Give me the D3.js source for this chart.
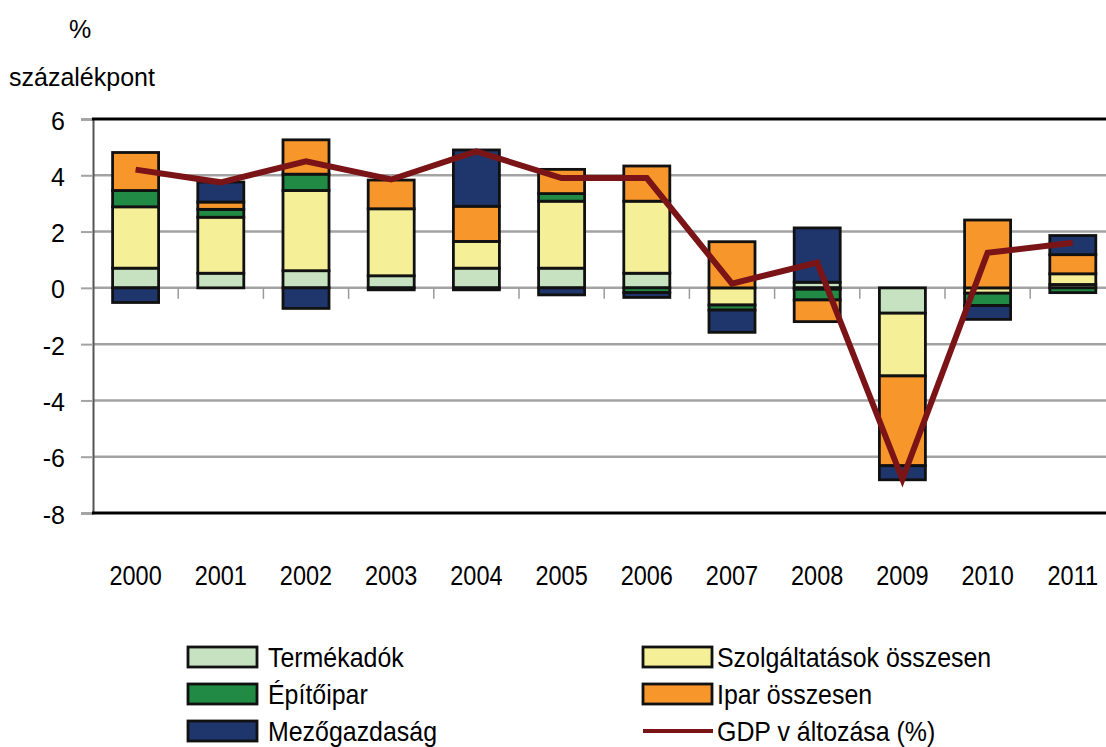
<!DOCTYPE html>
<html>
<head>
<meta charset="utf-8">
<script src="https://cdn.jsdelivr.net/npm/d3@7"></script>
<style>
  body { margin: 0; background: #fff; }
  svg { display: block; font-family: "Liberation Sans", Arial, sans-serif; }
</style>
</head>
<body>
<script>
const years = ["2000", "2001", "2002", "2003", "2004", "2005", "2006", "2007", "2008", "2009", "2010", "2011"];
const termekadok = [0.70, 0.52, 0.61, 0.43, 0.70, 0.70, 0.52, 0.00, 0.20, -0.90, 0.00, 0.12];
const szolgaltatasok = [2.18, 1.99, 2.85, 2.38, 0.95, 2.38, 2.56, -0.61, -0.05, -2.23, -0.19, 0.38];
const epitoipar = [0.58, 0.28, 0.58, 0.00, -0.07, 0.27, -0.17, -0.18, -0.38, 0.00, -0.44, -0.17];
const ipar = [1.35, 0.26, 1.22, 1.02, 1.25, 0.86, 1.25, 1.64, -0.77, -3.19, 2.41, 0.68];
const mezogazdasag = [-0.52, 0.71, -0.73, -0.07, 2.00, -0.25, -0.17, -0.79, 1.93, -0.50, -0.49, 0.68];
const gdp = [4.2, 3.75, 4.5, 3.85, 4.85, 3.9, 3.9, 0.15, 0.9, -6.8, 1.25, 1.6];
const yTicks = [6, 4, 2, 0, -2, -4, -6, -8];

const series = [
    {key: "termekadok", name: "Termékadók", values: termekadok, color: "#c6e2c0"},
    {key: "szolg", name: "Szolgáltatások összesen", values: szolgaltatasok, color: "#f5f098"},
    {key: "epito", name: "Építőipar", values: epitoipar, color: "#218a44"},
    {key: "ipar", name: "Ipar összesen", values: ipar, color: "#f7962b"},
    {key: "mezo", name: "Mezőgazdaság", values: mezogazdasag, color: "#1f366c"},
];
const lineColor = "#7a1416";

const width = 1106, height = 747;
const plot = {left: 93, top: 119, right: 93 + 12 * 85.2, bottom: 513};

const table = years.map((yr, i) => {
    const row = {year: yr};
    series.forEach(s => { row[s.key] = s.values[i]; });
    return row;
});

const x = d3.scaleBand().domain(years).range([plot.left, plot.right]).paddingInner(0.46).paddingOuter(0.23);
const xb = d3.scaleBand().domain(years).range([plot.left, plot.right]);
const y = d3.scaleLinear().domain([-8, 6]).range([plot.bottom, plot.top]);

const svg = d3.select("body").append("svg")
    .attr("width", width)
    .attr("height", height);

// gridlines
svg.append("g")
    .selectAll("line")
    .data(yTicks.filter(t => t > -8 && t < 6))
    .join("line")
        .attr("x1", plot.left).attr("x2", width)
        .attr("y1", d => y(d)).attr("y2", d => y(d))
        .attr("stroke", "#a3a3a3")
        .attr("stroke-width", 2.5);

// x ticks on zero line
svg.append("g")
    .selectAll("line")
    .data(years.slice(1))
    .join("line")
        .attr("x1", d => xb(d)).attr("x2", d => xb(d))
        .attr("y1", y(0)).attr("y2", y(0) + 11)
        .attr("stroke", "#9a9a9a")
        .attr("stroke-width", 1.5);

// y axis
const yAxis = svg.append("g")
    .attr("transform", `translate(${plot.left},0)`)
    .call(d3.axisLeft(y).tickValues(yTicks).tickSize(12).tickPadding(16).tickFormat(d => String(d)));
yAxis.select(".domain").attr("stroke", "#555").attr("stroke-width", 2);
yAxis.selectAll(".tick line").attr("stroke", "#a3a3a3").attr("stroke-width", 2);
yAxis.selectAll(".tick text")
    .attr("font-size", 25)
    .attr("font-family", "'Liberation Sans', Arial, sans-serif")
    .attr("fill", "#000")
    .attr("dy", "0.4em");

// top and bottom frame
svg.append("g")
    .selectAll("line")
    .data([6, -8])
    .join("line")
        .attr("x1", plot.left - 1).attr("x2", width)
        .attr("y1", d => y(d)).attr("y2", d => y(d))
        .attr("stroke", "#000")
        .attr("stroke-width", 3);

// stacked bars
const stack = d3.stack()
    .keys(series.map(s => s.key))
    .offset(d3.stackOffsetDiverging);
const stacked = stack(table);

svg.append("g")
    .selectAll("g")
    .data(stacked)
    .join("g")
        .attr("fill", (d, i) => series[i].color)
    .selectAll("rect")
    .data(d => d.filter(p => p[1] - p[0] !== 0))
    .join("rect")
        .attr("x", d => x(d.data.year))
        .attr("width", x.bandwidth())
        .attr("y", d => y(Math.max(d[0], d[1])))
        .attr("height", d => Math.abs(y(d[0]) - y(d[1])))
        .attr("stroke", "#111")
        .attr("stroke-width", 2.8);

// GDP line
const gdpLine = d3.line()
    .x((d, i) => x(years[i]) + x.bandwidth() / 2)
    .y(d => y(d));
svg.append("path")
    .datum(gdp)
    .attr("d", gdpLine)
    .attr("fill", "none")
    .attr("stroke", lineColor)
    .attr("stroke-width", 6)
    .attr("stroke-linejoin", "miter");

// x labels
svg.append("g")
    .selectAll("text")
    .data(years)
    .join("text")
        .attr("transform", d => `translate(${x(d) + x.bandwidth() / 2},585) scale(0.84,1)`)
        .attr("text-anchor", "middle")
        .attr("font-size", 28)
        .text(d => d);

// unit labels
svg.append("text").attr("x", 69).attr("y", 38).attr("font-size", 25).text("%");
svg.append("text").attr("x", 9).attr("y", 86).attr("font-size", 25).text("százalékpont");

// legend
const legendItems = [
    {s: series[0], col: 0, row: 0},
    {s: series[2], col: 0, row: 1},
    {s: series[4], col: 0, row: 2},
    {s: series[1], col: 1, row: 0},
    {s: series[3], col: 1, row: 1},
    {s: null, col: 1, row: 2, name: "GDP v áltozása (%)"},
];
const legendCols = [188, 643];
const legendRows = [657, 694, 731];
const legend = svg.append("g");
legendItems.forEach(it => {
    const lx = legendCols[it.col], ly = legendRows[it.row];
    if (it.s) {
        legend.append("rect")
            .attr("x", lx).attr("y", ly - 10)
            .attr("width", 69).attr("height", 20)
            .attr("fill", it.s.color)
            .attr("stroke", "#111")
            .attr("stroke-width", 2.8);
    } else {
        legend.append("line")
            .attr("x1", lx).attr("x2", lx + 70)
            .attr("y1", ly).attr("y2", ly)
            .attr("stroke", lineColor)
            .attr("stroke-width", 4);
    }
    legend.append("text")
        .attr("transform", `translate(${lx + (it.col === 0 ? 80 : 74)},${ly + 10}) scale(0.89,1)`)
        .attr("font-size", 28)
        .text(it.s ? it.s.name : it.name);
});
</script>
</body>
</html>
